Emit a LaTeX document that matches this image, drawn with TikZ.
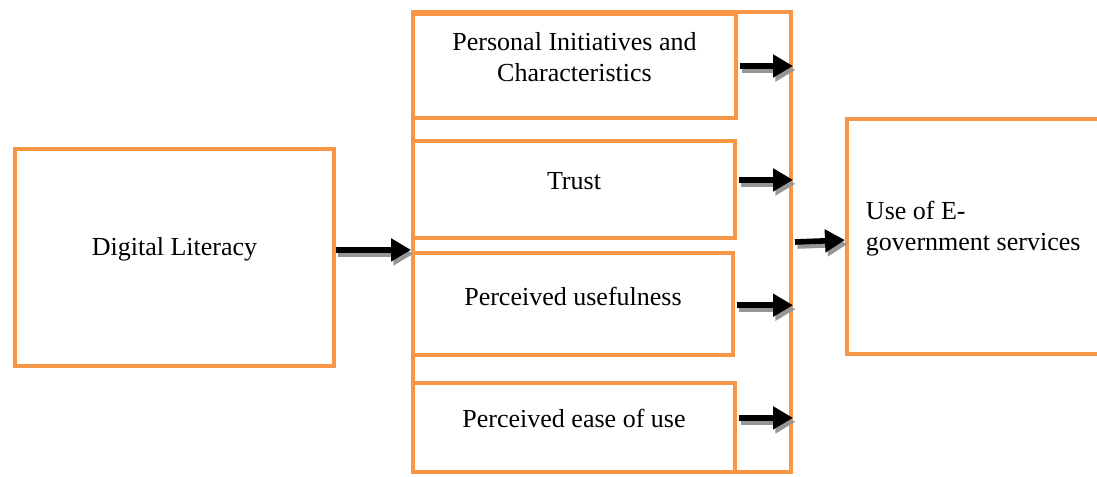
\documentclass[tikz,border=0pt]{standalone}
\usepackage{fontspec}
\setmainfont{Liberation Serif}
\usepackage{xcolor}
\usetikzlibrary{arrows.meta}
\definecolor{boxorange}{RGB}{247,150,70}
\definecolor{shadegrey}{RGB}{150,150,150}
\tikzstyle{factor}=[draw=boxorange,line width=0.1cm,minimum width=8.05cm,inner sep=0pt]
\tikzstyle{lbl}=[font=\fontsize{18.5}{22}\selectfont,align=center]
\tikzstyle{arrmain}=[line width=0.14cm,-{Triangle[length=0.5cm,width=0.55cm]}]
\tikzstyle{arrshade}=[arrmain,draw=shadegrey,transform canvas={shift={(0.06,-0.1)}}]
\newcommand{\shadearrow}[2]{\draw[arrshade] #1 -- #2; \draw[arrmain] #1 -- #2;}

\begin{document}
\begin{tikzpicture}
		\useasboundingbox (0,0) rectangle (27.425,-11.925);
		% left box
		\node [factor, minimum width=7.975cm, minimum height=5.425cm, label={[lbl,yshift=0.2cm]center:Digital Literacy}] (literacy) at (4.3625,-6.4375) {};
		% outer frame round the four factors
		\node [factor, minimum width=9.45cm, minimum height=11.5cm] (frame) at (15.05,-6.05) {};
		\node [factor, minimum width=8.075cm, minimum height=2.6cm, label={[lbl,yshift=0.22cm]center:Personal Initiatives and\\Characteristics}] (personal) at (14.3625,-1.65) {};
		\node [factor, minimum height=2.425cm, label={[lbl,yshift=0.2cm]center:Trust}] (trust) at (14.35,-4.7375) {};
		\node [factor, minimum width=8cm, minimum height=2.55cm, label={[lbl,yshift=0.2cm]center:Perceived usefulness}] (useful) at (14.325,-7.6) {};
		\node [factor, minimum height=2.225cm, label={[lbl,yshift=0.22cm]center:Perceived ease of use}] (ease) at (14.35,-10.6875) {};
		% right box, runs off the page
		\node [factor, minimum width=6.825cm, minimum height=5.875cm] (egov) at (24.5875,-5.9125) {};
		\node [lbl, align=left, anchor=west] (egovText) at ([xshift=0.4cm,yshift=0.2cm]egov.west) {Use of E-\\government services};

		\shadearrow{([yshift=0.19cm]literacy.east)}{([yshift=0.19cm]literacy.east -| frame.west)}
		\shadearrow{([xshift=0.05cm]personal.east)}{(personal.east -| frame.east)}
		\shadearrow{([xshift=0.05cm,yshift=0.24cm]trust.east)}{([yshift=0.24cm]trust.east -| frame.east)}
		\shadearrow{([xshift=0.05cm,yshift=-0.03cm]useful.east)}{([yshift=-0.03cm]useful.east -| frame.east)}
		\shadearrow{([xshift=0.05cm,yshift=0.24cm]ease.east)}{([yshift=0.24cm]ease.east -| frame.east)}
		\shadearrow{([xshift=0.05cm]frame.east)}{([yshift=-0.09cm]egov.west)}
	\end{tikzpicture}
\end{document}
